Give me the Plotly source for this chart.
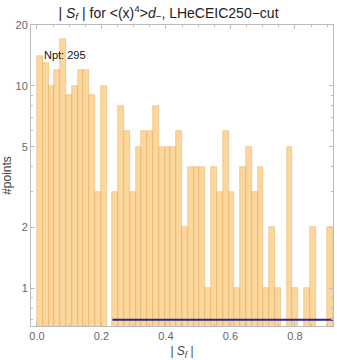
import numpy as np
import plotly.graph_objects as go

# ---- data ----
bin_width = 0.018
counts = [14, 13, 10, 12, 17, 9, 10, 12, 12, 9,
          3, 10, 0, 3, 8, 6, 3, 5, 6, 6,
          8, 5, 5, 5, 6, 2, 4, 4, 4, 1,
          4, 3, 6, 3, 1, 4, 5, 3, 4, 1,
          2, 1, 0, 5, 1, 0, 1, 2, 0, 0,
          2]
npt_label = "Npt: 295"
ref_line_x = [0.234, 0.918]
ref_line_y = [0.70, 0.70]
x_ticks = [0.0, 0.2, 0.4, 0.6, 0.8]
x_ticktext = ["0.0", "0.2", "0.4", "0.6", "0.8"]
y_ticks = [1, 2, 5, 10, 20]
y_minor = [0.7, 0.8, 0.9, 3, 4, 6, 7, 8, 9]

starts = np.arange(len(counts)) * bin_width
centers = starts + bin_width / 2
yvals = [c if c > 0 else None for c in counts]

fig = go.Figure()
fig.add_trace(go.Bar(
    x=centers, y=yvals, width=bin_width,
    marker=dict(color="rgba(251,196,110,0.68)",
                line=dict(color="rgba(225,160,80,0.7)", width=0.6)),
    showlegend=False, hoverinfo="skip"))

fig.add_trace(go.Scatter(
    x=ref_line_x, y=ref_line_y, mode="lines",
    line=dict(color="#28288a", width=2),
    showlegend=False, hoverinfo="skip"))

fig.add_annotation(text=npt_label, xref="paper", yref="paper", x=0.036, y=0.901,
                   xanchor="left", yanchor="middle", showarrow=False,
                   font=dict(size=11, color="#111", family="Liberation Sans"))

axis_common = dict(showgrid=False, zeroline=False, showline=True, linecolor="#bbbbbb",
                   linewidth=1, mirror="allticks", ticks="inside", ticklen=4,
                   tickcolor="#bbbbbb", tickfont=dict(size=11, color="#666666",
                                                       family="Liberation Sans"))

fig.update_xaxes(range=[-0.0185, 0.918], tickvals=x_ticks, ticktext=x_ticktext,
                 minor=dict(dtick=0.05, ticks="inside", ticklen=2, tickcolor="#bbbbbb"),
                 title=dict(text="| <i>S<sub>f</sub></i> |", standoff=6,
                            font=dict(size=12, color="#444", family="Liberation Sans")),
                 **axis_common)
fig.update_yaxes(type="log", range=[np.log10(0.652), np.log10(20)],
                 tickvals=y_ticks, ticktext=[str(v) for v in y_ticks],
                 minor=dict(tickvals=y_minor, ticks="inside", ticklen=2, tickcolor="#bbbbbb"),
                 title=dict(text="#points", standoff=4,
                            font=dict(size=12, color="#444", family="Liberation Sans")),
                 **axis_common)

fig.update_layout(
    width=337, height=360,
    margin=dict(l=30, r=3, t=25, b=31),
    paper_bgcolor="white", plot_bgcolor="white",
    bargap=0,
    title=dict(text="| <i>S<sub>f</sub></i> | for &lt;(x)<sup>4</sup>&gt;<i>d</i><sub>−</sub>, LHeCEIC250−cut",
               x=0.5, xanchor="center", y=0.965, yref="container", yanchor="middle",
               font=dict(size=14, color="#222", family="Liberation Sans")),
)

fig.write_html("out.html")
